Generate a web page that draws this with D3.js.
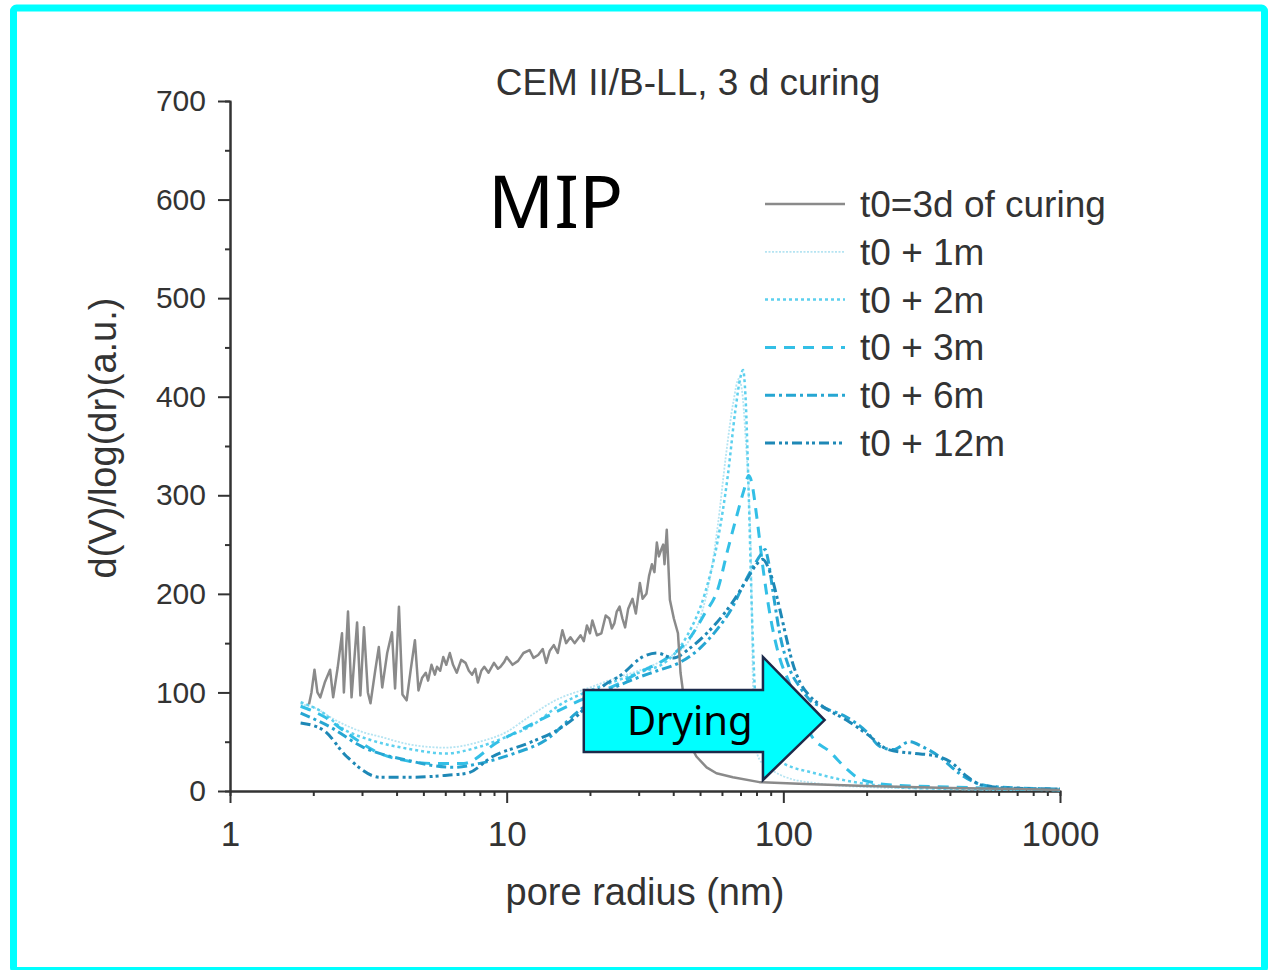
<!DOCTYPE html>
<html>
<head>
<meta charset="utf-8">
<script src="https://cdnjs.cloudflare.com/ajax/libs/d3/7.8.5/d3.min.js"></script>
<style>
html, body { margin: 0; padding: 0; background: #fff; }
svg { display: block; }
</style>
</head>
<body>
<div id="chart"></div>
<script>
// pore radius (nm) / d(V)/log(dr) pairs
const curing3d = [[1.93,88],[1.97,100],[2.02,123],[2.07,100],[2.12,95],[2.2,110],[2.3,123],[2.36,95],[2.45,125],[2.54,160],[2.58,100],[2.67,182],[2.75,95],[2.88,171],[2.96,97],[3.05,166],[3.15,100],[3.22,89],[3.34,120],[3.45,146],[3.55,105],[3.7,140],[3.85,161],[3.95,104],[4.08,187],[4.2,98],[4.35,92],[4.5,123],[4.66,153],[4.8,102],[4.95,115],[5.1,120],[5.2,112],[5.35,128],[5.5,118],[5.6,126],[5.75,122],[5.9,136],[6.05,128],[6.23,140],[6.4,128],[6.6,120],[6.85,133],[7.1,130],[7.3,122],[7.5,118],[7.7,124],[7.87,110],[8.1,122],[8.3,126],[8.6,120],[9.0,130],[9.3,124],[9.5,126],[9.8,131],[10.0,136],[10.5,128],[11.0,132],[11.5,140],[12.1,143],[12.5,135],[13.0,138],[13.5,144],[13.9,130],[14.3,142],[14.8,148],[15.3,140],[15.9,163],[16.4,150],[17.0,156],[17.6,150],[18.5,158],[19.0,152],[19.5,168],[20.0,160],[20.4,173],[21.2,158],[22.0,160],[22.8,178],[23.5,175],[24.0,165],[24.5,170],[25.0,182],[25.6,187],[26.2,175],[26.8,166],[27.5,185],[28.5,195],[29.3,180],[30.3,211],[31.0,195],[32.0,200],[32.7,218],[33.5,230],[34.2,222],[34.9,252],[35.5,238],[36.2,245],[36.8,250],[37.2,230],[37.9,265],[38.4,230],[38.9,194],[40.2,175],[41.6,160],[42.5,120],[43.2,105],[44.0,75],[45.0,52],[48.5,35],[52.8,24],[57.3,18],[65.7,14],[82,9],[120,7],[200,5],[400,3],[700,2],[1000,1]];
const plus1m = [[1.8,88],[2.0,85],[2.4,72],[3.0,60],[3.5,55],[4.5,47],[6,44],[8,50],[10,60],[12,75],[15,92],[20,105],[25,115],[30,122],[38,135],[45,150],[50,175],[55,225],[58,270],[62,340],[66,395],[69,418],[71,405],[73,360],[75,300],[76.5,230],[77.5,120],[79,50],[82,32],[90,22],[100,15],[130,8],[200,4],[400,2],[1000,1]];
const plus2m = [[1.8,90],[2.1,82],[2.6,62],[3.2,52],[4.6,42],[6,38],[8,45],[10,55],[12.1,65],[15.9,89],[20,102],[25,112],[30,120],[38,132],[45,158],[52,200],[58,255],[63,320],[67,385],[70,420],[71.5,427],[73,400],[75,300],[77,180],[79,100],[82,60],[88,38],[100,28],[130,18],[190,8],[300,3],[1000,1]];
const plus3m = [[1.8,86],[2.2,75],[2.64,59],[3.48,38],[4.5,30],[5.3,28],[7,28],[9.2,49],[13.2,72],[18.4,92],[25,108],[30,120],[38,135],[45,152],[52,180],[58,205],[63,245],[68,280],[72,305],[75,320],[77,312],[80,280],[85,220],[90,175],[97,135],[105,110],[115,80],[127,55],[147,40],[170,22],[190,12],[250,6],[400,4],[1000,1]];
const plus6m = [[1.8,79],[2.3,65],[3.0,45],[4.4,31],[6.4,24],[8,28],[10.6,38],[13.9,52],[18,80],[22,98],[28,112],[35,122],[42,130],[50,145],[58,165],[65,185],[72,210],[78,228],[83,240],[86,245],[88,235],[92,200],[97,160],[105,125],[115,105],[125,92],[139,85],[169,75],[200,60],[224,45],[250,42],[286,50],[318,45],[366,35],[432,18],[500,8],[600,4],[1000,2]];
const plus12m = [[1.8,69],[2.17,62],[2.64,35],[3.48,14],[4.6,14],[6.1,16],[7.2,18],[8.9,35],[12.1,49],[15.9,65],[18.4,79],[22,105],[26,118],[31,136],[35,140],[40,135],[46,145],[55,165],[65,190],[74,215],[80,230],[84,235],[90,220],[97,185],[103,153],[108,130],[115,110],[125,96],[140,85],[169,72],[200,58],[240,42],[300,38],[350,36],[400,30],[460,15],[520,6],[650,3],[1000,2]];

const seriesNames = ["t0=3d of curing","t0 + 1m","t0 + 2m","t0 + 3m","t0 + 6m","t0 + 12m"];
const seriesData = [curing3d, plus1m, plus2m, plus3m, plus6m, plus12m];
const seriesColors = ["#8a8a8a","#b5e4f2","#5cd0ee","#33bfe6","#26a6d2","#1e88b6"];
const seriesDash = [null,"2,1.5","3,3","11,8","10,4,3,4","10,4,3,3,3,4"];
const seriesWidth = [2.5,1.8,2.5,3,3,3];

const xMajor = [1,10,100,1000];
const yMajor = [0,100,200,300,400,500,600,700];
const yMinor = [50,150,250,350,450,550,650];

// "Drying" arrow outline in data units (radius, value)
const arrowShape = [[19,102.5],[84.4,102.5],[84.4,136],[141,72],[84.4,11.2],[84.4,39.6],[19,39.6]];
const arrowLabel = {r: 45.9, v: 71, text: "Drying"};

const W = 1268, H = 970;
const margin = {top: 101, right: 208, bottom: 179, left: 230};
const width = W - margin.left - margin.right,
      height = H - margin.top - margin.bottom;
const font = "'Liberation Sans', Arial, sans-serif";
const ink = "#333";

const svg = d3.select("#chart").append("svg")
  .attr("width", W).attr("height", H);

// cyan frame
svg.append("rect")
  .attr("x", 13.5).attr("y", 8).attr("width", 1251).attr("height", 962.5)
  .attr("rx", 3)
  .attr("fill", "none").attr("stroke", "#00ffff").attr("stroke-width", 7);

const g = svg.append("g").attr("transform", `translate(${margin.left},${margin.top})`);

const x = d3.scaleLog().domain([1, 1000]).range([0, width]);
const y = d3.scaleLinear().domain([0, 700]).range([height, 0]);

// minor x ticks (2..9 each decade)
const xMinor = [];
for (let d = 1; d < 1000; d *= 10) for (let k = 2; k <= 9; k++) xMinor.push(d * k);

function styleAxis(sel) {
  sel.select(".domain").attr("stroke", ink).attr("stroke-width", 2);
  sel.selectAll(".tick line").attr("stroke", ink).attr("stroke-width", 2);
  sel.selectAll("text").attr("fill", ink).style("font-family", font);
}

g.append("g").attr("transform", `translate(0,${height})`)
  .call(d3.axisBottom(x).tickValues(xMinor).tickSize(5).tickFormat(""))
  .call(styleAxis);
g.append("g").attr("transform", `translate(0,${height})`)
  .call(d3.axisBottom(x).tickValues(xMajor).tickSize(12).tickSizeOuter(0).tickPadding(18).tickFormat(d3.format("d")))
  .call(styleAxis)
  .selectAll("text").style("font-size", "35px");

g.append("g")
  .call(d3.axisLeft(y).tickValues(yMinor).tickSize(5).tickFormat(""))
  .call(styleAxis);
g.append("g")
  .call(d3.axisLeft(y).tickValues(yMajor).tickSize(12).tickSizeOuter(0).tickPadding(12))
  .call(styleAxis)
  .selectAll("text").style("font-size", "30px");

// curves
const line = d3.line()
  .x(d => x(d[0]))
  .y(d => y(d[1]));

const order = [1, 2, 3, 4, 5, 0];
order.forEach(i => {
  g.append("path")
    .datum(seriesData[i])
    .attr("fill", "none")
    .attr("stroke", seriesColors[i])
    .attr("stroke-width", seriesWidth[i])
    .attr("stroke-dasharray", seriesDash[i])
    .attr("stroke-linejoin", "round")
    .attr("d", i === 0 ? line.curve(d3.curveLinear)(seriesData[i]) : line.curve(d3.curveMonotoneX)(seriesData[i]));
});

// title
g.append("text")
  .attr("x", 458).attr("y", -6)
  .attr("text-anchor", "middle")
  .style("font-family", font).style("font-size", "37px")
  .attr("fill", ink)
  .text("CEM II/B-LL, 3 d curing");

// MIP label
g.append("text")
  .attr("x", 258).attr("y", 127)
  .style("font-family", "'Noto Sans', 'Open Sans', sans-serif").style("font-size", "73px")
  .attr("fill", "#000")
  .text("MIP");

// legend
const legend = g.append("g").attr("transform", "translate(535,103)");
seriesNames.forEach((name, i) => {
  const row = legend.append("g").attr("transform", `translate(0,${i * 47.8})`);
  row.append("line")
    .attr("x1", 0).attr("x2", 80)
    .attr("stroke", seriesColors[i])
    .attr("stroke-width", seriesWidth[i])
    .attr("stroke-dasharray", seriesDash[i]);
  row.append("text")
    .attr("x", 95).attr("dy", "0.35em")
    .style("font-family", font).style("font-size", "37px")
    .attr("fill", ink)
    .text(name);
});

// axis titles
g.append("text")
  .attr("x", x(31.6)).attr("y", height + 114)
  .attr("text-anchor", "middle")
  .style("font-family", font).style("font-size", "38px")
  .attr("fill", ink)
  .text("pore radius (nm)");

g.append("text")
  .attr("transform", `translate(-114,${height / 2 - 8}) rotate(-90)`)
  .attr("text-anchor", "middle")
  .style("font-family", font).style("font-size", "38px")
  .attr("fill", ink)
  .text("d(V)/log(dr)(a.u.)");

// Drying arrow
g.append("path")
  .attr("d", d3.line().x(d => x(d[0])).y(d => y(d[1]))(arrowShape) + "Z")
  .attr("fill", "#00ffff")
  .attr("stroke", "#1c2a4a")
  .attr("stroke-width", 2.5)
  .attr("stroke-linejoin", "miter");

g.append("text")
  .attr("x", x(arrowLabel.r)).attr("y", y(arrowLabel.v))
  .attr("dy", "0.35em")
  .attr("text-anchor", "middle")
  .style("font-family", "'Noto Sans', 'Open Sans', sans-serif").style("font-size", "40px")
  .attr("fill", "#000")
  .text(arrowLabel.text);
</script>
</body>
</html>
